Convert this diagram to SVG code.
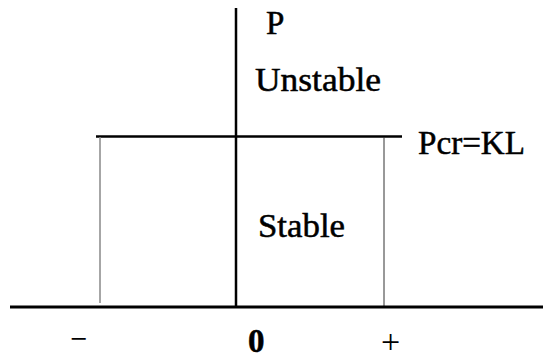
<svg xmlns="http://www.w3.org/2000/svg" width="543" height="360" viewBox="0 0 543 360">
<style>
.t{font-family:"Liberation Serif","Times New Roman",serif;font-size:33px;fill:#000;stroke:#000;stroke-width:0.5}
.s{font-family:"Liberation Serif","Times New Roman",serif;font-size:34px;fill:#000}
.ax{stroke:#000;stroke-width:2.5;fill:none}
</style>
<rect width="543" height="360" fill="#fff"/>
<g id="connectors">
<line class="ax" x1="236" y1="8" x2="236" y2="308"/>
<line class="ax" x1="96" y1="136.5" x2="402" y2="136.5"/>
<line x1="100" y1="137" x2="100" y2="303" stroke="#888" stroke-width="1.5"/>
<line x1="384" y1="137" x2="384" y2="308" stroke="#333" stroke-width="1"/>
<line x1="10" y1="307" x2="543" y2="307" stroke="#000" stroke-width="3"/>
</g>
<g id="label-P"><text class="t" x="266" y="34">P</text></g>
<g id="label-unstable"><text class="t" x="255" y="91" textLength="126" lengthAdjust="spacingAndGlyphs">Unstable</text></g>
<g id="label-pcr"><text class="t" x="418" y="154" textLength="107" lengthAdjust="spacingAndGlyphs">Pcr=KL</text></g>
<g id="label-stable"><text class="t" x="258" y="237" textLength="87" lengthAdjust="spacingAndGlyphs">Stable</text></g>
<g id="label-minus"><text class="s" x="70" y="350" textLength="17" lengthAdjust="spacingAndGlyphs">−</text></g>
<g id="label-zero"><text class="t" x="248" y="352" font-weight="bold">0</text></g>
<g id="label-plus"><text class="s" x="381" y="353">+</text></g>
</svg>
